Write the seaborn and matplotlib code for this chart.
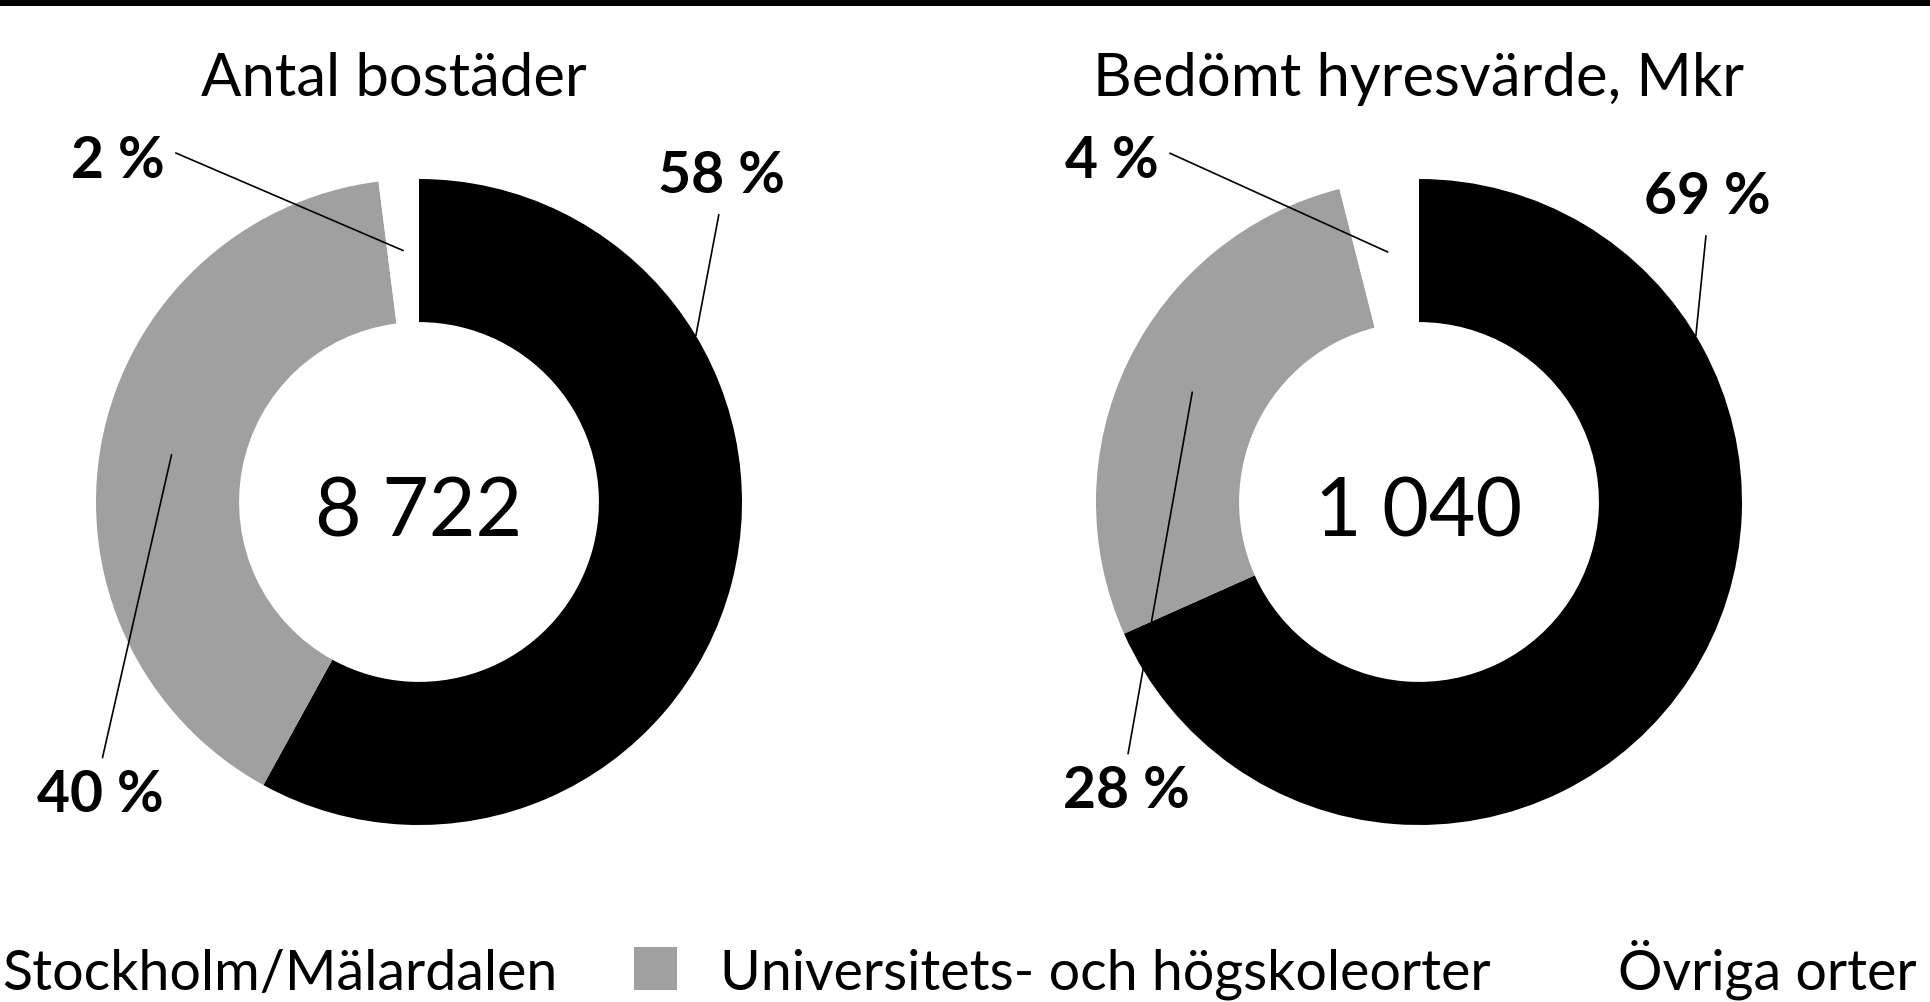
import matplotlib
matplotlib.use("Agg")
import matplotlib.pyplot as plt
import seaborn as sns
import numpy as np
from matplotlib.patches import Rectangle
from matplotlib.lines import Line2D

# data
categories = ["Stockholm/Mälardalen", "Universitets- och högskoleorter", "Övriga orter"]
titles = ["Antal bostäder", "Bedömt hyresvärde, Mkr"]
totals = [8722, 1040]
shares_bostader = [58, 40, 2]
shares_hyresvarde = [69, 28, 4]

# styles / layout
colors = ["#000000", "#a0a0a0", "#ffffff"]
W, H = 1930, 1002
centers_x = [419, 1419]
center_y = 502
R = 323
ring_width = 0.443
title_x = [394, 1419]
title_baseline = 96
# label text positions (baseline, in radius units from the donut centre)
label_pos = [
    [(0.935, 0.956), (-0.988, -0.960), (-0.932, 1.003)],
    [(0.892, 0.891), (-0.907, -0.948), (-0.950, 1.003)],
]
# where the leader line meets the ring: fixed angle for black, mid-angle otherwise
anchor_angle = [31, None, None]
anchor_r = [1.0, 0.78, 0.78]
relpos = [(0.5, 0.0), (0.5, 1.0), (1.0, 0.75)]
legend_x = [2, 720, 1618]
legend_base = 12


def fmt_total(v):
    return f"{v:,}".replace(",", " ")


sns.set_theme(style="white")
plt.rcParams["font.family"] = ["Lato", "DejaVu Sans"]

fig = plt.figure(figsize=(W / 100, H / 100), dpi=100)
fig.patch.set_facecolor("white")

# thick rule at top
fig.add_artist(Line2D([0, 1], [1 - 3 / H, 1 - 3 / H], color="black", lw=4.3,
                      transform=fig.transFigure))

for i, shares in enumerate([shares_bostader, shares_hyresvarde]):
    cx = centers_x[i]
    ax = fig.add_axes([(cx - R) / W, (H - center_y - R) / H, 2 * R / W, 2 * R / H])
    wedges, _ = ax.pie(shares, colors=colors, startangle=90, counterclock=False,
                       radius=1, wedgeprops=dict(width=ring_width, edgecolor="none"))
    ax.set_xlim(-1, 1)
    ax.set_ylim(-1, 1)
    ax.set_aspect("equal")
    ax.axis("off")

    ax.text(0, -0.108, fmt_total(totals[i]), ha="center", va="baseline",
            fontsize=58, color="black")

    for j, (w, v) in enumerate(zip(wedges, shares)):
        ang = anchor_angle[j]
        if ang is None:
            ang = (w.theta1 + w.theta2) / 2
        r = anchor_r[j]
        xy = (r * np.cos(np.radians(ang)), r * np.sin(np.radians(ang)))
        ax.annotate(f"{v} %", xy=xy, xytext=label_pos[i][j], textcoords="data",
                    ha="center", va="baseline", fontsize=41, fontweight="bold",
                    color="black", annotation_clip=False,
                    arrowprops=dict(arrowstyle="-", color="black", lw=1.2,
                                    relpos=relpos[j], shrinkA=6, shrinkB=0))

    fig.text(title_x[i] / W, 1 - title_baseline / H, titles[i], ha="center",
             va="baseline", fontsize=43, color="black")

# legend drawn by hand so the columns sit where the original has them
for k, lab in enumerate(categories):
    x0 = legend_x[k]
    fig.text(x0 / W, legend_base / H, lab, ha="left", va="baseline", fontsize=40,
             color="black")
    fig.add_artist(Rectangle(((x0 - 86) / W, legend_base / H), 43 / W, 43 / H,
                             facecolor=colors[k], edgecolor="none",
                             transform=fig.transFigure))

fig.savefig("out.png", dpi=100, facecolor="white")
